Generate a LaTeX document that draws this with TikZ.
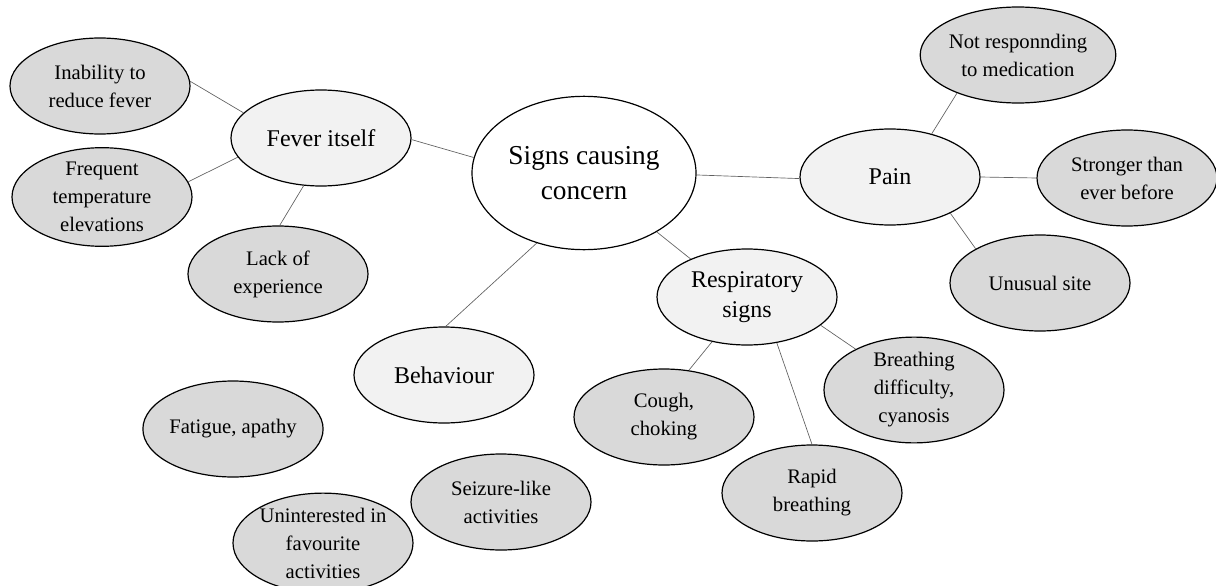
\documentclass[tikz,border=0pt]{standalone}
\usepackage{fontspec}
\setmainfont{Liberation Serif}
\usetikzlibrary{shapes.geometric}

\definecolor{leaffill}{HTML}{D9D9D9}
\definecolor{topicfill}{HTML}{F2F2F2}
\definecolor{linkgray}{HTML}{606060}

\tikzset{
  bubble/.style={ellipse, draw=black, line width=0.9pt, inner sep=0pt,
    align=center, text=black},
  rootbubble/.style={bubble, fill=white, minimum width=168pt, minimum height=115pt,
    font=\fontsize{20.5}{26}\selectfont},
  topicbubble/.style={bubble, fill=topicfill, minimum width=135pt, minimum height=72pt,
    font=\fontsize{18}{22.5}\selectfont},
  leafbubble/.style={bubble, fill=leaffill, minimum width=135pt, minimum height=72pt,
    font=\fontsize{15.5}{21}\selectfont},
  link/.style={draw=linkgray, line width=0.5pt}
}

\begin{document}
\begin{tikzpicture}[x=0.75pt,y=-0.75pt]
\useasboundingbox (0,0) rectangle (1216,585);
\clip (0,0) rectangle (1216,585);

% centre
\node[rootbubble] (root) at (584,173) {Signs causing\\concern};

% main topics
\node[topicbubble] (fever) at (321,138) {Fever itself};
\node[topicbubble] (pain) at (890,177) {Pain};
\node[topicbubble] (resp) at (747,297) {Respiratory\\signs};
\node[topicbubble] (behav) at (444,375) {Behaviour};

% fever details
\node[leafbubble] (inab) at (100,86) {Inability to\\reduce fever};
\node[leafbubble] (freq) at (102,197) {Frequent\\temperature\\elevations};
\node[leafbubble] (lack) at (278,274) {Lack of\\experience};

% pain details
\node[leafbubble] (notresp) at (1018,55) {Not responnding\\to medication};
\node[leafbubble] (strong) at (1127,178) {Stronger than\\ever before};
\node[leafbubble] (unusual) at (1040,283) {Unusual site};

% respiratory details
\node[leafbubble] (breath) at (914,390) {Breathing\\difficulty,\\cyanosis};
\node[leafbubble] (cough) at (664,417) {Cough,\\choking};
\node[leafbubble] (rapid) at (812,493) {Rapid\\breathing};

% behaviour details
\node[leafbubble] (fatigue) at (233,429) {Fatigue, apathy};
\node[leafbubble] (seizure) at (501,502) {Seizure-like\\activities};
\node[leafbubble] (uninter) at (323,543) {Uninterested in\\favourite\\activities};

% connectors
\draw[link] (fever.-1) -- (root.172);
\draw[link] (root.-1) -- (pain.181);
\draw[link] (root.-39) -- (resp.146);
\draw[link] (root.236) -- (behav.88);

\draw[link] (inab.3) -- (fever.162);
\draw[link] (freq.10) -- (fever.193);
\draw[link] (lack.88) -- (fever.250);

\draw[link] (pain.46) -- (notresp.212);
\draw[link] (pain.0) -- (strong.180);
\draw[link] (pain.-31) -- (unusual.152);

\draw[link] (resp.232) -- (cough.62);
\draw[link] (resp.-57) -- (rapid.90);
\draw[link] (resp.-21) -- (breath.145);
\end{tikzpicture}
\end{document}
